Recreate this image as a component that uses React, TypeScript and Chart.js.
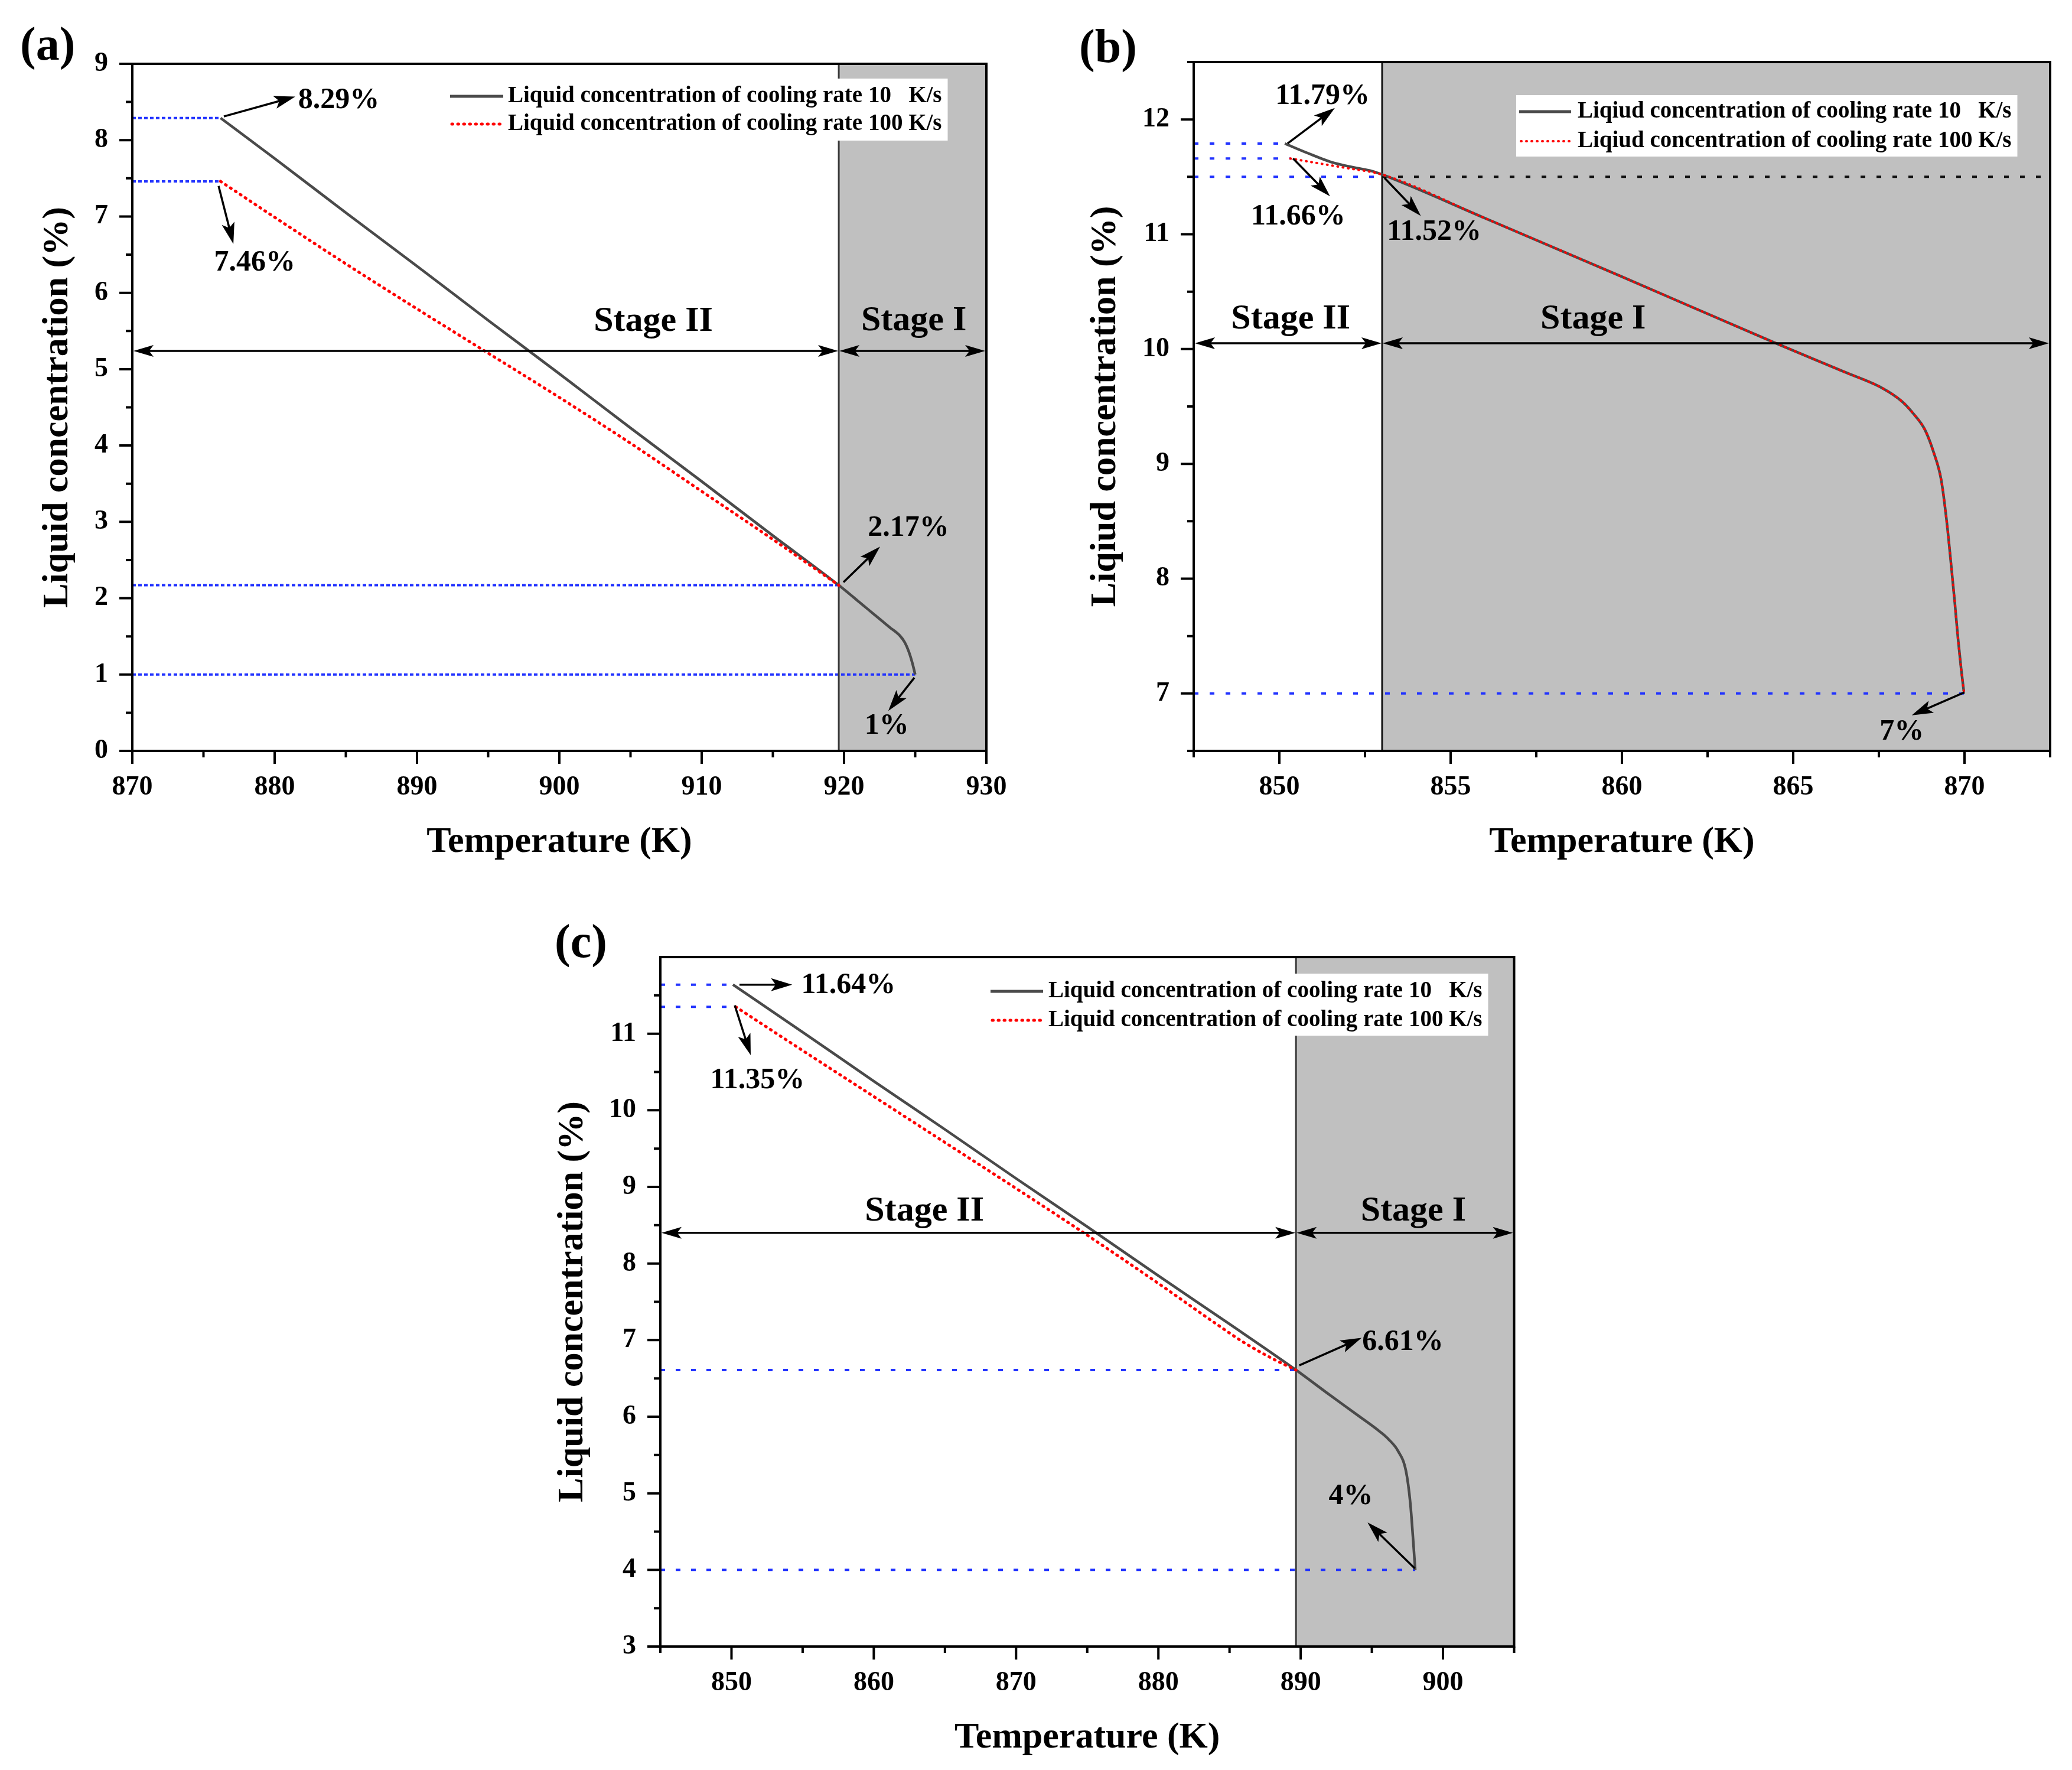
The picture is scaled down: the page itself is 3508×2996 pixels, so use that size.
import React, { useEffect, useRef } from "react";
import { Chart, registerables } from "chart.js";

Chart.register(...registerables);

const FONT = "'Liberation Serif', 'Times New Roman', serif";

// ---------- Panel (a) data ----------
const tempA10 = [876.2, 880, 885, 890, 895, 900, 905, 910, 915, 919.63, 921, 922.1, 923.2, 923.92, 924.27, 924.55, 924.8, 925.0];
const concA10 = [8.29, 7.76, 7.05, 6.35, 5.64, 4.94, 4.23, 3.53, 2.82, 2.17, 1.96, 1.79, 1.62, 1.51, 1.42, 1.3, 1.15, 1.0];
const tempA100 = [876.2, 880, 885, 890, 895, 900, 905, 910, 915, 919.63];
const concA100 = [7.46, 6.99, 6.38, 5.79, 5.21, 4.63, 4.03, 3.4, 2.77, 2.17];
const xTicksA = [870, 880, 890, 900, 910, 920, 930];
const yTicksA = [0, 1, 2, 3, 4, 5, 6, 7, 8, 9];

// ---------- Panel (b) data ----------
const tempB10 = [850.16, 850.8, 851.5, 852.2, 852.7, 853.0, 856, 860, 864.5, 866.5, 867.6, 868.17, 868.5, 868.84, 869.1, 869.32, 869.48, 869.61, 869.72, 869.81, 869.9, 869.98];
const concB10 = [11.79, 11.71, 11.63, 11.58, 11.55, 11.52, 11.14, 10.63, 10.05, 9.8, 9.66, 9.545, 9.44, 9.3, 9.1, 8.86, 8.5, 8.12, 7.78, 7.48, 7.22, 7.02];
const tempB100 = [850.32, 851.0, 852.0, 853.0, 856, 860, 864.5, 866.5, 867.6, 868.17, 868.5, 868.84, 869.1, 869.32, 869.48, 869.61, 869.72, 869.81, 869.9, 869.98];
const concB100 = [11.66, 11.625, 11.575, 11.52, 11.14, 10.63, 10.05, 9.8, 9.66, 9.545, 9.44, 9.3, 9.1, 8.86, 8.5, 8.12, 7.78, 7.48, 7.22, 7.02];
const xTicksB = [850, 855, 860, 865, 870];
const yTicksB = [7, 8, 9, 10, 11, 12];

// ---------- Panel (c) data ----------
const tempC10 = [850.1, 855, 860, 865, 870, 875, 880, 885, 889.67, 892, 894, 895.6, 896.15, 896.85, 897.4, 897.7, 897.9, 898.05];
const concC10 = [11.64, 11.02, 10.38, 9.75, 9.11, 8.48, 7.84, 7.21, 6.61, 6.29, 6.02, 5.8, 5.71, 5.55, 5.29, 4.88, 4.4, 4.0];
const tempC100 = [850.3, 855, 860, 865, 870, 875, 880, 884, 886, 888, 889.67];
const concC100 = [11.35, 10.78, 10.18, 9.58, 8.98, 8.37, 7.74, 7.22, 6.97, 6.76, 6.61];
const xTicksC = [850, 860, 870, 880, 890, 900];
const yTicksC = [3, 4, 5, 6, 7, 8, 9, 10, 11];

const LEG10 = "Liquid concentration of cooling rate 10   K/s";
const LEG100 = "Liquid concentration of cooling rate 100 K/s";
const LEG10B = "Liqiud concentration of cooling rate 10   K/s";
const LEG100B = "Liqiud concentration of cooling rate 100 K/s";

type HLine = { y: number; x0: number; x1: number; color: string; dash: number[] };
type Arr = { from: [number, number]; to: [number, number] };
type Txt = { x: number; y: number; text: string };

type PanelCfg = {
  key: string;
  left: number;
  top: number;
  width: number;
  height: number;
  padding: { left: number; top: number; right: number; bottom: number };
  yWidth: number;
  yTitlePad: number;
  yTitle: string;
  xMin: number;
  xMax: number;
  yMin: number;
  yMax: number;
  xTicks: number[];
  yTicks: number[];
  xHalf: number;
  yHalf: number;
  t10: number[];
  c10: number[];
  t100: number[];
  c100: number[];
  redDash: number[];
  redWidth: number;
  label: string;
  labelX: number;
  labelY: number;
  boundary: number;
  boundaryColor: string;
  hLines: HLine[];
  stageY: number;
  stageII: [number, number];
  stageI: [number, number];
  arrows: Arr[];
  texts: Txt[];
  legend: { left: number; top: number; bottom: number; s0: number; s1: number; r1: number; r2: number; textX: number; t1: string; t2: string };
};

function minors(majors: number[], half: number, min: number, max: number): number[] {
  const out: number[] = [];
  const m0 = majors[0];
  const kStart = Math.ceil((min - m0) / half - 1e-6);
  const kEnd = Math.floor((max - m0) / half + 1e-6);
  for (let k = kStart; k <= kEnd; k++) {
    if (Math.abs(k % 2) === 1) out.push(m0 + k * half);
  }
  return out;
}

function arrowHead(ctx: CanvasRenderingContext2D, x1: number, y1: number, x2: number, y2: number, len: number, half: number) {
  const a = Math.atan2(y2 - y1, x2 - x1);
  const c = Math.cos(a), s = Math.sin(a);
  ctx.beginPath();
  ctx.moveTo(x2, y2);
  ctx.lineTo(x2 - len * c + half * s, y2 - len * s - half * c);
  ctx.lineTo(x2 - len * 0.78 * c, y2 - len * 0.78 * s);
  ctx.lineTo(x2 - len * c - half * s, y2 - len * s + half * c);
  ctx.closePath();
  ctx.fill();
}

function arrow(ctx: CanvasRenderingContext2D, x1: number, y1: number, x2: number, y2: number, lw: number, len: number, half: number, both: boolean) {
  const a = Math.atan2(y2 - y1, x2 - x1);
  const c = Math.cos(a), s = Math.sin(a);
  ctx.lineWidth = lw;
  ctx.beginPath();
  const sx = both ? x1 + len * 0.7 * c : x1;
  const sy = both ? y1 + len * 0.7 * s : y1;
  ctx.moveTo(sx, sy);
  ctx.lineTo(x2 - len * 0.7 * c, y2 - len * 0.7 * s);
  ctx.stroke();
  arrowHead(ctx, x1, y1, x2, y2, len, half);
  if (both) arrowHead(ctx, x2, y2, x1, y1, len, half);
}

function makePlugin(cfg: PanelCfg) {
  return {
    id: "decor_" + cfg.key,
    beforeDatasetsDraw(chart: any) {
      const { ctx, chartArea: ca, scales } = chart;
      const X = (v: number) => scales.x.getPixelForValue(v);
      const Y = (v: number) => scales.y.getPixelForValue(v);
      ctx.save();
      const bx = X(cfg.boundary);
      ctx.fillStyle = "#c0c0c0";
      ctx.fillRect(bx, ca.top, ca.right - bx, ca.bottom - ca.top);
      for (const h of cfg.hLines) {
        ctx.setLineDash(h.dash);
        ctx.strokeStyle = h.color;
        ctx.lineWidth = 4;
        ctx.beginPath();
        ctx.moveTo(X(h.x0), Y(h.y));
        ctx.lineTo(X(h.x1), Y(h.y));
        ctx.stroke();
      }
      ctx.setLineDash([]);
      ctx.strokeStyle = cfg.boundaryColor;
      ctx.lineWidth = 3;
      ctx.beginPath();
      ctx.moveTo(bx, ca.top);
      ctx.lineTo(bx, ca.bottom);
      ctx.stroke();
      ctx.restore();
    },
    afterDatasetsDraw(chart: any) {
      const { ctx, chartArea: ca, scales } = chart;
      const X = (v: number) => scales.x.getPixelForValue(v);
      const Y = (v: number) => scales.y.getPixelForValue(v);
      ctx.save();
      ctx.fillStyle = "#000";
      ctx.strokeStyle = "#000";
      ctx.lineCap = "butt";
      // stage double arrows
      const sy = Y(cfg.stageY);
      const bx = X(cfg.boundary);
      arrow(ctx, ca.left + 2, sy, bx - 1, sy, 3.5, 34, 10, true);
      arrow(ctx, bx + 1, sy, ca.right - 2, sy, 3.5, 34, 10, true);
      ctx.font = `bold 60px ${FONT}`;
      ctx.textAlign = "center";
      ctx.textBaseline = "middle";
      ctx.fillText("Stage II", X(cfg.stageII[0]), Y(cfg.stageII[1]));
      ctx.fillText("Stage I", X(cfg.stageI[0]), Y(cfg.stageI[1]));
      // value arrows
      for (const a of cfg.arrows) {
        arrow(ctx, X(a.from[0]), Y(a.from[1]), X(a.to[0]), Y(a.to[1]), 3.5, 36, 11, false);
      }
      ctx.font = `bold 50px ${FONT}`;
      for (const t of cfg.texts) {
        ctx.fillText(t.text, X(t.x), Y(t.y));
      }
      // legend
      const L = cfg.legend;
      ctx.font = `bold 39px ${FONT}`;
      const w = Math.max(ctx.measureText(L.t1).width, ctx.measureText(L.t2).width);
      ctx.fillStyle = "#fff";
      ctx.fillRect(L.left, L.top, L.textX + w + 10 - L.left, L.bottom - L.top);
      ctx.strokeStyle = "#4a4a4a";
      ctx.lineWidth = 5;
      ctx.beginPath();
      ctx.moveTo(L.s0, L.r1);
      ctx.lineTo(L.s1, L.r1);
      ctx.stroke();
      ctx.strokeStyle = "#ff0000";
      ctx.lineWidth = cfg.redWidth;
      ctx.lineCap = "round";
      ctx.setLineDash(cfg.redDash);
      ctx.beginPath();
      ctx.moveTo(L.s0 + 3, L.r2);
      ctx.lineTo(L.s1, L.r2);
      ctx.stroke();
      ctx.setLineDash([]);
      ctx.lineCap = "butt";
      ctx.fillStyle = "#000";
      ctx.textAlign = "left";
      ctx.fillText(L.t1, L.textX, L.r1);
      ctx.fillText(L.t2, L.textX, L.r2);
      ctx.restore();
    },
    afterDraw(chart: any) {
      const { ctx, chartArea: ca, scales } = chart;
      const X = (v: number) => scales.x.getPixelForValue(v);
      const Y = (v: number) => scales.y.getPixelForValue(v);
      ctx.save();
      ctx.strokeStyle = "#000";
      ctx.lineWidth = 4;
      ctx.strokeRect(ca.left, ca.top, ca.right - ca.left, ca.bottom - ca.top);
      ctx.lineWidth = 4;
      ctx.beginPath();
      for (const v of cfg.xTicks) {
        const x = X(v);
        ctx.moveTo(x, ca.bottom);
        ctx.lineTo(x, ca.bottom + 22);
      }
      for (const v of minors(cfg.xTicks, cfg.xHalf, cfg.xMin, cfg.xMax)) {
        const x = X(v);
        ctx.moveTo(x, ca.bottom);
        ctx.lineTo(x, ca.bottom + 11);
      }
      for (const v of cfg.yTicks) {
        const y = Y(v);
        ctx.moveTo(ca.left, y);
        ctx.lineTo(ca.left - 22, y);
      }
      for (const v of minors(cfg.yTicks, cfg.yHalf, cfg.yMin, cfg.yMax)) {
        const y = Y(v);
        ctx.moveTo(ca.left, y);
        ctx.lineTo(ca.left - 11, y);
      }
      ctx.stroke();
      ctx.fillStyle = "#000";
      ctx.font = `bold 80px ${FONT}`;
      ctx.textAlign = "left";
      ctx.textBaseline = "alphabetic";
      ctx.fillText(cfg.label, cfg.labelX, cfg.labelY);
      ctx.restore();
    },
  };
}

const BLUE = "#2233ff";

const panels: PanelCfg[] = [
  {
    key: "a",
    left: 0,
    top: 0,
    width: 1754,
    height: 1500,
    padding: { left: 0, top: 108, right: 84, bottom: 37 },
    yWidth: 224,
    yTitlePad: 61,
    yTitle: "Liquid concentration (%)",
    xMin: 870,
    xMax: 930,
    yMin: 0,
    yMax: 9,
    xTicks: xTicksA,
    yTicks: yTicksA,
    xHalf: 5,
    yHalf: 0.5,
    t10: tempA10,
    c10: concA10,
    t100: tempA100,
    c100: concA100,
    redDash: [1.5, 8.5],
    redWidth: 5,
    label: "(a)",
    labelX: 34,
    labelY: 101,
    boundary: 919.63,
    boundaryColor: "#3a3a3a",
    hLines: [
      { y: 8.29, x0: 870, x1: 876.2, color: BLUE, dash: [6, 4] },
      { y: 7.46, x0: 870, x1: 876.2, color: BLUE, dash: [6, 4] },
      { y: 2.17, x0: 870, x1: 919.63, color: BLUE, dash: [6, 4] },
      { y: 1.0, x0: 870, x1: 925.0, color: BLUE, dash: [6, 4] },
    ],
    stageY: 5.24,
    stageII: [906.6, 5.62],
    stageI: [924.9, 5.63],
    arrows: [
      { from: [876.43, 8.31], to: [881.45, 8.57] },
      { from: [876.06, 7.4], to: [877.1, 6.64] },
      { from: [919.96, 2.21], to: [922.53, 2.675] },
      { from: [924.94, 0.958], to: [923.11, 0.525] },
    ],
    texts: [
      { x: 884.5, y: 8.52, text: "8.29%" },
      { x: 878.6, y: 6.39, text: "7.46%" },
      { x: 924.52, y: 2.915, text: "2.17%" },
      { x: 923.0, y: 0.325, text: "1%" },
    ],
    legend: { left: 752, top: 133, bottom: 238, s0: 762, s1: 852, r1: 163, r2: 210, textX: 860, t1: LEG10, t2: LEG100 },
  },
  {
    key: "b",
    left: 1754,
    top: 0,
    width: 1754,
    height: 1500,
    padding: { left: 0, top: 105, right: 37, bottom: 37 },
    yWidth: 267,
    yTitlePad: 81,
    yTitle: "Liqiud concentration (%)",
    xMin: 847.5,
    xMax: 872.5,
    yMin: 6.5,
    yMax: 12.5,
    xTicks: xTicksB,
    yTicks: yTicksB,
    xHalf: 2.5,
    yHalf: 0.5,
    t10: tempB10,
    c10: concB10,
    t100: tempB100,
    c100: concB100,
    redDash: [1, 8],
    redWidth: 4,
    label: "(b)",
    labelX: 73,
    labelY: 105,
    boundary: 853.0,
    boundaryColor: "#111",
    hLines: [
      { y: 11.79, x0: 847.5, x1: 850.16, color: BLUE, dash: [8, 19] },
      { y: 11.66, x0: 847.5, x1: 850.32, color: BLUE, dash: [8, 19] },
      { y: 11.5, x0: 847.5, x1: 853.0, color: BLUE, dash: [8, 19] },
      { y: 7.0, x0: 847.5, x1: 870.0, color: BLUE, dash: [8, 19] },
      { y: 11.5, x0: 853.0, x1: 872.5, color: "#111", dash: [8, 19] },
    ],
    stageY: 10.05,
    stageII: [850.33, 10.26],
    stageI: [859.16, 10.26],
    arrows: [
      { from: [850.24, 11.79], to: [851.62, 12.1] },
      { from: [850.4, 11.66], to: [851.48, 11.33] },
      { from: [853.07, 11.49], to: [854.13, 11.16] },
      { from: [870.0, 7.01], to: [868.46, 6.81] },
    ],
    texts: [
      { x: 851.26, y: 12.2, text: "11.79%" },
      { x: 850.55, y: 11.15, text: "11.66%" },
      { x: 854.52, y: 11.02, text: "11.52%" },
      { x: 868.17, y: 6.665, text: "7%" },
    ],
    legend: { left: 813, top: 161, bottom: 265, s0: 818, s1: 906, r1: 189, r2: 239, textX: 917, t1: LEG10B, t2: LEG100B },
  },
  {
    key: "c",
    left: 877,
    top: 1500,
    width: 1754,
    height: 1496,
    padding: { left: 0, top: 120, right: 67.5, bottom: 17 },
    yWidth: 241,
    yTitlePad: 56,
    yTitle: "Liquid concentration (%)",
    xMin: 845,
    xMax: 905,
    yMin: 3,
    yMax: 12,
    xTicks: xTicksC,
    yTicks: yTicksC,
    xHalf: 5,
    yHalf: 0.5,
    t10: tempC10,
    c10: concC10,
    t100: tempC100,
    c100: concC100,
    redDash: [1.5, 8.5],
    redWidth: 5,
    label: "(c)",
    labelX: 62,
    labelY: 120,
    boundary: 889.67,
    boundaryColor: "#3a3a3a",
    hLines: [
      { y: 11.64, x0: 845, x1: 850.1, color: BLUE, dash: [8, 18] },
      { y: 11.35, x0: 845, x1: 850.3, color: BLUE, dash: [8, 18] },
      { y: 6.61, x0: 845, x1: 889.67, color: BLUE, dash: [8, 18] },
      { y: 4.0, x0: 845, x1: 898.05, color: BLUE, dash: [8, 18] },
    ],
    stageY: 8.4,
    stageII: [863.56, 8.68],
    stageI: [897.92, 8.68],
    arrows: [
      { from: [850.56, 11.64], to: [854.27, 11.64] },
      { from: [850.23, 11.37], to: [851.35, 10.72] },
      { from: [889.9, 6.67], to: [894.28, 7.03] },
      { from: [898.02, 4.02], to: [894.7, 4.62] },
    ],
    texts: [
      { x: 858.22, y: 11.63, text: "11.64%" },
      { x: 851.82, y: 10.39, text: "11.35%" },
      { x: 897.18, y: 6.97, text: "6.61%" },
      { x: 893.52, y: 4.96, text: "4%" },
    ],
    legend: { left: 789, top: 148, bottom: 253, s0: 800, s1: 889, r1: 178, r2: 227, textX: 898, t1: LEG10, t2: LEG100 },
  },
];

function Panel({ cfg }: { cfg: PanelCfg }) {
  const ref = useRef<HTMLCanvasElement>(null);
  useEffect(() => {
    const canvas = ref.current;
    if (!canvas) return;
    const tickFont = { family: FONT, size: 46, weight: "bold" as const };
    const titleFont = { family: FONT, size: 62, weight: "bold" as const };
    const chart = new Chart(canvas, {
      type: "line",
      data: {
        datasets: [
          {
            label: cfg.legend.t1,
            data: cfg.t10.map((t, i) => ({ x: t, y: cfg.c10[i] })),
            borderColor: "#4a4a4a",
            borderWidth: 4.5,
            pointRadius: 0,
            cubicInterpolationMode: "monotone",
            fill: false,
            order: 2,
          },
          {
            label: cfg.legend.t2,
            data: cfg.t100.map((t, i) => ({ x: t, y: cfg.c100[i] })),
            borderColor: "#ff0000",
            borderWidth: cfg.redWidth,
            borderDash: cfg.redDash,
            borderCapStyle: "round",
            pointRadius: 0,
            cubicInterpolationMode: "monotone",
            fill: false,
            order: 1,
          },
        ],
      },
      options: {
        responsive: false,
        animation: false,
        devicePixelRatio: 1,
        layout: { padding: cfg.padding },
        plugins: { legend: { display: false }, tooltip: { enabled: false } },
        scales: {
          x: {
            type: "linear",
            position: "bottom",
            min: cfg.xMin,
            max: cfg.xMax,
            grid: { display: false, drawTicks: false },
            border: { display: false },
            ticks: {
              color: "#000",
              font: tickFont,
              padding: 35,
              autoSkip: false,
              maxRotation: 0,
              callback: (v: any) => String(v),
            },
            title: { display: true, text: "Temperature (K)", color: "#000", font: titleFont, padding: { top: 0, bottom: 0 } },
            afterBuildTicks: (s: any) => {
              s.ticks = cfg.xTicks.map((v) => ({ value: v }));
            },
            afterFit: (s: any) => {
              s.height = 192;
            },
          },
          y: {
            type: "linear",
            position: "left",
            min: cfg.yMin,
            max: cfg.yMax,
            grid: { display: false, drawTicks: false },
            border: { display: false },
            ticks: {
              color: "#000",
              font: tickFont,
              padding: 41,
              autoSkip: false,
              callback: (v: any) => String(v),
            },
            title: { display: true, text: cfg.yTitle, color: "#000", font: titleFont, padding: { top: cfg.yTitlePad, bottom: 0 } },
            afterBuildTicks: (s: any) => {
              s.ticks = cfg.yTicks.map((v) => ({ value: v }));
            },
            afterFit: (s: any) => {
              s.width = cfg.yWidth;
            },
          },
        },
      } as any,
      plugins: [makePlugin(cfg)],
    });
    return () => chart.destroy();
  }, [cfg]);
  return (
    <canvas
      ref={ref}
      width={cfg.width}
      height={cfg.height}
      style={{ position: "absolute", left: cfg.left, top: cfg.top, width: cfg.width, height: cfg.height }}
    />
  );
}

export default function App() {
  return (
    <div style={{ position: "absolute", left: 0, top: 0, width: 3508, height: 2996, background: "#fff", overflow: "hidden" }}>
      {panels.map((p) => (
        <Panel key={p.key} cfg={p} />
      ))}
    </div>
  );
}
